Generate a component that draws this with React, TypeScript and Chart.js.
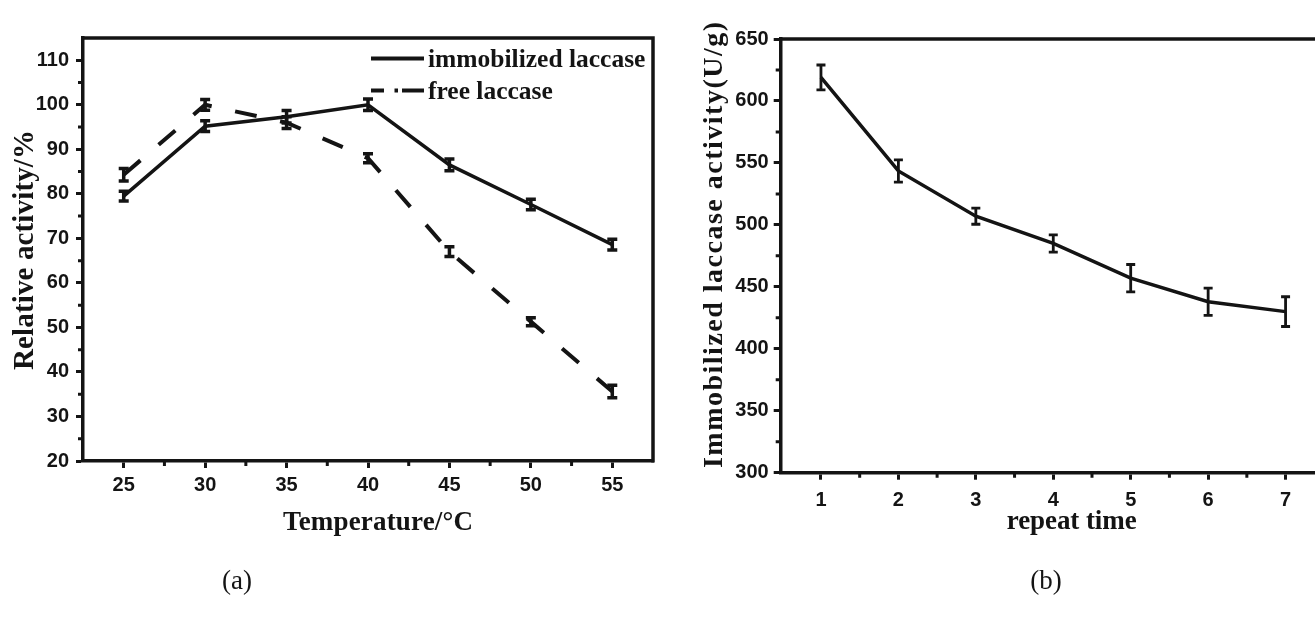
import React, { useEffect, useRef } from "react";
import { Chart, registerables } from "chart.js";

Chart.register(...registerables);

// ---------- (a) temperature data ----------
const temperatures = [25, 30, 35, 40, 45, 50, 55];
const immobilizedActivity = [79.5, 95.2, 97.3, 100, 86.5, 77.6, 68.6];
const immobilizedError = [1.1, 1.2, 1.4, 1.3, 1.3, 1.2, 1.2];
const freeActivity = [84.3, 100, 96, 88, 67, 51.3, 35.6];
const freeError = [1.4, 1.2, 1.3, 1.0, 1.1, 0.9, 1.4];
const temperatureTicks = [25, 30, 35, 40, 45, 50, 55];
const temperatureMinorTicks = [27.5, 32.5, 37.5, 42.5, 47.5, 52.5];
const relativeActivityTicks = [20, 30, 40, 50, 60, 70, 80, 90, 100, 110];
const relativeActivityMinorTicks = [25, 35, 45, 55, 65, 75, 85, 95, 105];
const seriesNames = ["immobilized laccase", "free laccase"];

// ---------- (b) repeat data ----------
const repeatTimes = [1, 2, 3, 4, 5, 6, 7];
const repeatActivity = [619, 543.5, 507, 485, 457, 438, 430];
const repeatError = [10, 9, 6.5, 7, 11, 11, 12];
const repeatTicks = [1, 2, 3, 4, 5, 6, 7];
const repeatMinorTicks = [1.5, 2.5, 3.5, 4.5, 5.5, 6.5];
const laccaseActivityTicks = [300, 350, 400, 450, 500, 550, 600, 650];
const laccaseActivityMinorTicks = [325, 375, 425, 475, 525, 575, 625];

const INK = "#141414";
const TICK_FONT = { family: '"Liberation Sans", Arial, sans-serif', size: 20, weight: "bold" as const };
const SERIF = '"Liberation Serif", "Times New Roman", serif';

function drawFitted(ctx: CanvasRenderingContext2D, text: string, target: number) {
  ctx.letterSpacing = "0px";
  const natural = ctx.measureText(text).width;
  const n = Array.from(text).length;
  const sp = n > 1 ? (target - natural) / (n - 1) : 0;
  ctx.letterSpacing = `${sp.toFixed(2)}px`;
  ctx.textAlign = "center";
  ctx.textBaseline = "alphabetic";
  ctx.fillText(text, sp / 2, 0);
  ctx.letterSpacing = "0px";
}

const errorBarPlugin = {
  id: "errorBars",
  afterDatasetsDraw(chart: any, _args: any, opts: any) {
    const { ctx } = chart;
    const yScale = chart.scales.y;
    const errs: number[][] = opts.errors || [];
    ctx.save();
    ctx.strokeStyle = INK;
    ctx.lineWidth = opts.lineWidth;
    ctx.setLineDash([]);
    ctx.lineCap = "butt";
    errs.forEach((e, di) => {
      const meta = chart.getDatasetMeta(di);
      const data = chart.data.datasets[di].data;
      meta.data.forEach((pt: any, i: number) => {
        const v = data[i].y;
        const x = pt.x;
        const yT = yScale.getPixelForValue(v + e[i]);
        const yB = yScale.getPixelForValue(v - e[i]);
        const hw = opts.capWidth / 2;
        ctx.beginPath();
        ctx.moveTo(x, yT);
        ctx.lineTo(x, yB);
        ctx.moveTo(x - hw, yT);
        ctx.lineTo(x + hw, yT);
        ctx.moveTo(x - hw, yB);
        ctx.lineTo(x + hw, yB);
        ctx.stroke();
      });
    });
    ctx.restore();
  },
};

function makeFramePlugin(cfg: {
  right: boolean;
  xMinor: number[];
  yMinor: number[];
  yTitle: string;
  yTitleSize: number;
  yTitleBaselineX: number;
  yTitleCenterY: number;
  yTitleLength: number;
  xTitle: string;
  xTitleSize: number;
  xTitleCenterX: number;
  xTitleBaselineY: number;
  xTitleLength: number;
  legend: boolean;
}) {
  return {
    id: "frame",
    afterDraw(chart: any) {
      const { ctx, chartArea: a } = chart;
      const x = chart.scales.x;
      const y = chart.scales.y;
      ctx.save();
      ctx.strokeStyle = INK;
      ctx.setLineDash([]);
      ctx.lineWidth = 3.5;
      ctx.beginPath();
      ctx.moveTo(a.left - 1.5, a.top);
      if (cfg.right) {
        ctx.lineTo(a.right, a.top);
        ctx.lineTo(a.right, a.bottom + 1.5);
      } else {
        ctx.lineTo(chart.width, a.top);
      }
      ctx.stroke();
      // minor ticks
      ctx.lineWidth = 3;
      ctx.beginPath();
      cfg.xMinor.forEach((v) => {
        const px = x.getPixelForValue(v);
        ctx.moveTo(px, a.bottom);
        ctx.lineTo(px, a.bottom + 5);
      });
      cfg.yMinor.forEach((v) => {
        const py = y.getPixelForValue(v);
        ctx.moveTo(a.left, py);
        ctx.lineTo(a.left - 5, py);
      });
      ctx.stroke();
      // titles
      ctx.fillStyle = INK;
      ctx.save();
      ctx.font = `bold ${cfg.yTitleSize}px ${SERIF}`;
      ctx.translate(cfg.yTitleBaselineX, cfg.yTitleCenterY);
      ctx.rotate(-Math.PI / 2);
      drawFitted(ctx, cfg.yTitle, cfg.yTitleLength);
      ctx.restore();
      ctx.save();
      ctx.font = `bold ${cfg.xTitleSize}px ${SERIF}`;
      ctx.translate(cfg.xTitleCenterX, cfg.xTitleBaselineY);
      drawFitted(ctx, cfg.xTitle, cfg.xTitleLength);
      ctx.restore();
      // legend
      if (cfg.legend) {
        ctx.lineWidth = 4;
        ctx.beginPath();
        ctx.moveTo(371, 58.5);
        ctx.lineTo(424, 58.5);
        ctx.moveTo(371, 90.5);
        ctx.lineTo(384, 90.5);
        ctx.moveTo(394.5, 90.5);
        ctx.lineTo(398, 90.5);
        ctx.moveTo(402, 90.5);
        ctx.lineTo(424, 90.5);
        ctx.stroke();
        ctx.font = `bold 25.5px ${SERIF}`;
        ctx.textAlign = "left";
        ctx.textBaseline = "alphabetic";
        ctx.fillText(seriesNames[0], 428, 66.5);
        ctx.fillText(seriesNames[1], 428, 98.5);
      }
      ctx.restore();
    },
  };
}

function axisCommon(min: number, max: number, ticks: number[], size: number, padding: number, isX: boolean) {
  return {
    type: "linear" as const,
    min,
    max,
    bounds: "data" as const,
    afterBuildTicks: (s: any) => {
      s.ticks = ticks.map((v) => ({ value: v }));
    },
    afterFit: (s: any) => {
      if (isX) s.height = size;
      else s.width = size;
    },
    grid: {
      drawOnChartArea: false,
      drawTicks: true,
      tickLength: 7,
      tickWidth: 3,
      tickColor: INK,
      color: INK,
    },
    border: { display: true, width: 3.5, color: INK },
    ticks: {
      font: TICK_FONT,
      color: INK,
      padding,
      autoSkip: false,
      maxRotation: 0,
      minRotation: 0,
    },
    title: { display: false },
  };
}

function TemperatureChart() {
  const ref = useRef<HTMLCanvasElement | null>(null);
  useEffect(() => {
    if (!ref.current) return;
    const chart = new Chart(ref.current, {
      type: "line",
      data: {
        datasets: [
          {
            label: seriesNames[0],
            data: temperatures.map((t, i) => ({ x: t, y: immobilizedActivity[i] })),
            borderColor: INK,
            borderWidth: 3.5,
            pointRadius: 0,
            tension: 0,
            fill: false,
          },
          {
            label: seriesNames[1],
            data: temperatures.map((t, i) => ({ x: t, y: freeActivity[i] })),
            borderColor: INK,
            borderWidth: 4,
            borderDash: [22, 24],
            pointRadius: 0,
            tension: 0,
            fill: false,
          },
        ],
      },
      options: {
        animation: false,
        responsive: false,
        devicePixelRatio: 1,
        events: [],
        layout: { padding: { left: 13, top: 38, right: 37, bottom: 100 } },
        scales: {
          x: axisCommon(22.5, 57.5, temperatureTicks, 60, 5.5, true),
          y: axisCommon(20, 115, relativeActivityTicks, 70, 7, false),
        },
        plugins: {
          legend: { display: false },
          tooltip: { enabled: false },
          errorBars: { errors: [immobilizedError, freeError], capWidth: 10, lineWidth: 3.5 },
        } as any,
      },
      plugins: [
        errorBarPlugin,
        makeFramePlugin({
          right: true,
          xMinor: temperatureMinorTicks,
          yMinor: relativeActivityMinorTicks,
          yTitle: "Relative activity/%",
          yTitleSize: 29,
          yTitleBaselineX: 33,
          yTitleCenterY: 250,
          yTitleLength: 240,
          xTitle: "Temperature/°C",
          xTitleSize: 27,
          xTitleCenterX: 378,
          xTitleBaselineY: 530,
          xTitleLength: 190,
          legend: true,
        }),
      ],
    });
    return () => chart.destroy();
  }, []);
  return (
    <canvas
      ref={ref}
      width={690}
      height={621}
      style={{ position: "absolute", left: 0, top: 0, width: 690, height: 621 }}
    />
  );
}

function RepeatChart() {
  const ref = useRef<HTMLCanvasElement | null>(null);
  useEffect(() => {
    if (!ref.current) return;
    const chart = new Chart(ref.current, {
      type: "line",
      data: {
        datasets: [
          {
            label: "immobilized laccase activity",
            data: repeatTimes.map((t, i) => ({ x: t, y: repeatActivity[i] })),
            borderColor: INK,
            borderWidth: 3.5,
            pointRadius: 0,
            tension: 0,
            fill: false,
          },
        ],
      },
      options: {
        animation: false,
        responsive: false,
        devicePixelRatio: 1,
        events: [],
        layout: { padding: { left: 10.7, top: 39, right: 0, bottom: 88.3 } },
        scales: {
          x: axisCommon(0.48, 7.38, repeatTicks, 60, 8.5, true),
          y: axisCommon(300, 650, laccaseActivityTicks, 80, 5, false),
        },
        plugins: {
          legend: { display: false },
          tooltip: { enabled: false },
          errorBars: { errors: [repeatError], capWidth: 9, lineWidth: 2.8 },
        } as any,
      },
      plugins: [
        errorBarPlugin,
        makeFramePlugin({
          right: false,
          xMinor: repeatMinorTicks,
          yMinor: laccaseActivityMinorTicks,
          yTitle: "Immobilized laccase activity(U/g)",
          yTitleSize: 28,
          yTitleBaselineX: 31.7,
          yTitleCenterY: 245,
          yTitleLength: 446,
          xTitle: "repeat time",
          xTitleSize: 27,
          xTitleCenterX: 1071.7 - 690,
          xTitleBaselineY: 528.5,
          xTitleLength: 130,
          legend: false,
        }),
      ],
    });
    return () => chart.destroy();
  }, []);
  return (
    <canvas
      ref={ref}
      width={625}
      height={621}
      style={{ position: "absolute", left: 690, top: 0, width: 625, height: 621 }}
    />
  );
}

const panelLabelStyle: React.CSSProperties = {
  position: "absolute",
  top: 580,
  transform: "translate(-50%, -50%)",
  fontFamily: SERIF,
  fontSize: 27,
  color: INK,
  lineHeight: 1,
  whiteSpace: "nowrap",
};

export default function App() {
  return (
    <div
      style={{
        position: "fixed",
        left: 0,
        top: 0,
        width: 1315,
        height: 621,
        background: "#ffffff",
        overflow: "hidden",
      }}
    >
      <TemperatureChart />
      <RepeatChart />
      <div style={{ ...panelLabelStyle, left: 237 }}>(a)</div>
      <div style={{ ...panelLabelStyle, left: 1046 }}>(b)</div>
    </div>
  );
}
